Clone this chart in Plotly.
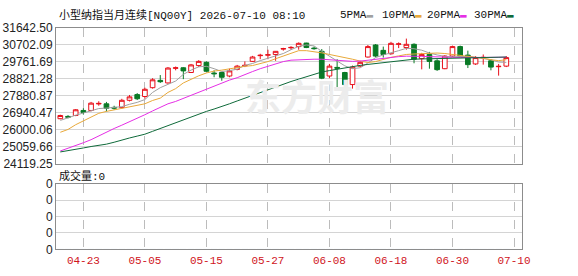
import plotly.graph_objects as go

# ---------------- data ----------------
open_ = [26603, 26730, 26782, 27060, 27060, 27420, 27427, 27230, 27218, 27622,
         27937, 27832, 28320, 28724, 28582, 29390, 29421, 29159, 29543, 29721,
         29130, 29159, 28965, 29332, 29530, 29774, 30090, 30120, 30157, 30455,
         30525, 30592, 30787, 30510, 30330, 28965, 29440, 29159, 28493, 29511,
         30015, 30681, 30383, 30194, 30720, 30540, 30718, 29931, 30157, 29805,
         29370, 30068, 30592, 30120, 29632, 29970, 29805, 29480, 29511]
high = [26824, 26800, 27140, 27180, 27532, 27570, 27532, 27320, 27705, 27916,
        28020, 28320, 28845, 29018, 29459, 29490, 29459, 29632, 29842, 29774,
        29280, 29196, 29370, 29579, 29774, 30078, 30194, 30419, 30340, 30524,
        30614, 30824, 30803, 30592, 30456, 29632, 29894, 29196, 29543, 29805,
        30681, 30734, 30592, 30855, 30824, 31034, 30771, 30246, 30299, 29894,
        30120, 30645, 30645, 30367, 30068, 30157, 29894, 29632, 30068]
low = [26572, 26620, 26745, 26830, 27008, 27322, 27008, 27100, 27165, 27559,
       27637, 27705, 28267, 28582, 28545, 29280, 28791, 29133, 29459, 29196,
       28896, 28703, 28896, 29280, 29459, 29737, 29894, 29894, 29805, 30367,
       30419, 30419, 30509, 30419, 28792, 28845, 28267, 28440, 28267, 29459,
       29984, 29999, 29984, 30157, 30509, 30419, 29669, 29333, 29370, 29249,
       29343, 30015, 30015, 29406, 29579, 29595, 29280, 28986, 29459]
close = [26782, 26690, 27097, 26955, 27464, 27450, 27181, 27190, 27622, 27811,
         27706, 28231, 28755, 28650, 29406, 29420, 29248, 29579, 29774, 29228,
         29090, 28896, 29249, 29511, 29555, 30015, 30110, 30140, 30330, 30480,
         30545, 30771, 30540, 30480, 28845, 29511, 29400, 28493, 29459, 29721,
         30592, 30068, 30157, 30771, 30740, 30718, 29894, 30157, 29774, 29317,
         30068, 30592, 30068, 29595, 29984, 29995, 29459, 29500, 29984]

ma5 = [26509, 26667, 26798, 26918, 27060, 27165, 27191, 27218, 27270, 27401,
       27506, 27664, 28057, 28320, 28504, 28687, 29055, 29291, 29475, 29501,
       29370, 29212, 29265, 29343, 29553, 29658, 29816, 29947, 30078, 30209,
       30419, 30603, 30682, 30629, 30330, 30078, 29790, 29527, 29370, 29422,
       29685, 29984, 30131, 30236, 30367, 30498, 30472, 30393, 30236, 30131,
       30052, 30026, 30052, 30052, 29999, 29921, 29868, 29737, 29721]
ma10 = [25853, 26010, 26273, 26483, 26667, 26903, 27008, 27086, 27165, 27270,
        27323, 27428, 27611, 27742, 28057, 28267, 28582, 28792, 28976, 29133,
        29238, 29291, 29370, 29448, 29501, 29543, 29632, 29763, 29921, 30078,
        30209, 30367, 30367, 30314, 30246, 30157, 30078, 29999, 29894, 29790,
        29711, 29763, 29894, 29999, 30078, 30157, 30183, 30209, 30236, 30236,
        30209, 30157, 30131, 30078, 30026, 29947, 29868, 29816, 29868]
ma20 = [24819, 24960, 25118, 25275, 25443, 25658, 25868, 26062, 26246, 26430,
        26614, 26824, 27034, 27218, 27428, 27559, 27727, 27900, 28084, 28215,
        28399, 28582, 28740, 28871, 29055, 29212, 29370, 29501, 29632, 29763,
        29842, 29868, 29894, 29894, 29894, 29868, 29842, 29800, 29774, 29790,
        29842, 29894, 29957, 29999, 30036, 30062, 30068, 30052, 30036, 30010,
        29999, 29999, 29989, 29983, 29983, 29983, 29989, 29999, 30010]
ma30 = [24766, 24829, 24907, 24986, 25065, 25117, 25197, 25302, 25433, 25538,
        25642, 25747, 25905, 26062, 26220, 26404, 26561, 26693, 26850, 27008,
        27139, 27270, 27428, 27585, 27743, 27900, 28057, 28215, 28372, 28530,
        28661, 28792, 28923, 29054, 29186, 29265, 29343, 29422, 29501, 29553,
        29606, 29658, 29711, 29763, 29816, 29868, 29894, 29910, 29921, 29931,
        29947, 29957, 29968, 29978, 29989, 29999, 30005, 30010, 30015]
volume = [0] * len(close)

date_tick_index = [3, 11, 19, 27, 35, 43, 51, 59]
date_tick_labels = ["04-23", "05-05", "05-15", "05-27", "06-08", "06-18", "06-30", "07-10"]
price_tick_labels = ["24119.25", "25059.66", "26000.06", "26940.47", "27880.87",
                     "28821.28", "29761.69", "30702.09", "31642.50"]
vol_tick_labels = ["0", "0", "0", "0", "0"]

title_text = "小型纳指当月连续[NQ00Y] 2026-07-10 08:10"
vol_title = "成交量:0"
ma_names = ["5PMA", "10PMA", "20PMA", "30PMA"]

# ---------------- styles ----------------
RED = "#e8101a"
GREEN = "#0a7a26"
MA_COLORS = ["#a0a0a0", "#e8a93a", "#e52ee5", "#0f6a3a"]
GRID = "#d4d4d4"
FRAME = "#8c8c8c"
MONO = "Liberation Mono, Noto Sans CJK SC, monospace"
SANS = "Liberation Sans, Arial, sans-serif"

x = list(range(len(close)))
price_vals = [float(s) for s in price_tick_labels]

fig = go.Figure()

fig.add_trace(go.Candlestick(
    x=x, open=open_, high=high, low=low, close=close,
    increasing=dict(line=dict(color=RED, width=1), fillcolor="white"),
    decreasing=dict(line=dict(color=GREEN, width=1), fillcolor=GREEN),
    whiskerwidth=0, showlegend=False, xaxis="x", yaxis="y",
))

for name, vals, col in zip(ma_names, [ma5, ma10, ma20, ma30], MA_COLORS):
    fig.add_trace(go.Scatter(x=x, y=vals, mode="lines", name=name,
                             line=dict(color=col, width=1), showlegend=False,
                             xaxis="x", yaxis="y"))

fig.add_trace(go.Bar(x=x, y=volume, marker_color=GREEN, showlegend=False,
                     xaxis="x2", yaxis="y2"))

xr = [-0.56, 60.04]
common_x = dict(range=xr, showgrid=True, gridcolor="#bcbcbc", griddash="dash",
                gridwidth=1, zeroline=False, showline=True, linecolor=FRAME,
                linewidth=1, mirror=True, tickmode="array",
                tickvals=date_tick_index, ticks="")

fig.update_layout(
    width=578, height=276,
    margin=dict(l=56, r=56, t=0, b=0),
    paper_bgcolor="white", plot_bgcolor="white",
    boxgap=0.36, boxgroupgap=0.05,
    xaxis=dict(**common_x, domain=[0, 1], anchor="y", showticklabels=False,
               rangeslider=dict(visible=False)),
    yaxis=dict(domain=[0.40217, 0.92138], range=[price_vals[0], price_vals[-1]],
               tickmode="array", tickvals=price_vals, ticktext=price_tick_labels,
               showgrid=True, gridcolor=GRID, zeroline=False, showline=True,
               linecolor=FRAME, mirror=True, ticks="",
               tickfont=dict(family=SANS, size=12, color="#222")),
    xaxis2=dict(**common_x, domain=[0, 1], anchor="y2", matches="x",
                ticktext=date_tick_labels, showticklabels=True,
                tickfont=dict(family=MONO, size=11, color="#d0141c")),
    yaxis2=dict(domain=[0.075, 0.32609], range=[0, 4], tickmode="array",
                tickvals=[0, 1, 2, 3, 4], ticktext=vol_tick_labels,
                showgrid=True, gridcolor=GRID, zeroline=False, showline=True,
                linecolor=FRAME, mirror=True, ticks="",
                tickfont=dict(family=SANS, size=12, color="#222")),
    hovermode=False,
)

annotations = [
    dict(text="<b>东方财富</b>", x=0.56, y=0.665, xref="paper", yref="paper",
         showarrow=False, font=dict(family="Noto Sans CJK SC", size=36, color="#ececec"),
         xanchor="center", yanchor="middle"),
    dict(text=title_text, x=0.002, y=0.968, xref="paper", yref="paper",
         showarrow=False, font=dict(family=MONO, size=11, color="#111"),
         xanchor="left", yanchor="middle"),
    dict(text=vol_title, x=0.002, y=0.356, xref="paper", yref="paper",
         showarrow=False, font=dict(family=MONO, size=11, color="#111"),
         xanchor="left", yanchor="middle"),
]
legend_x = [338, 380, 425, 472]
for name, col, px in zip(ma_names, MA_COLORS, legend_x):
    annotations.append(dict(
        text=f"{name}<span style='color:{col}'>▬</span>",
        x=(px - 56) / 466, y=0.968, xref="paper", yref="paper", showarrow=False,
        font=dict(family=MONO, size=11, color="#111"), xanchor="left", yanchor="middle"))
fig.update_layout(annotations=annotations)

fig.write_html("out.html")
